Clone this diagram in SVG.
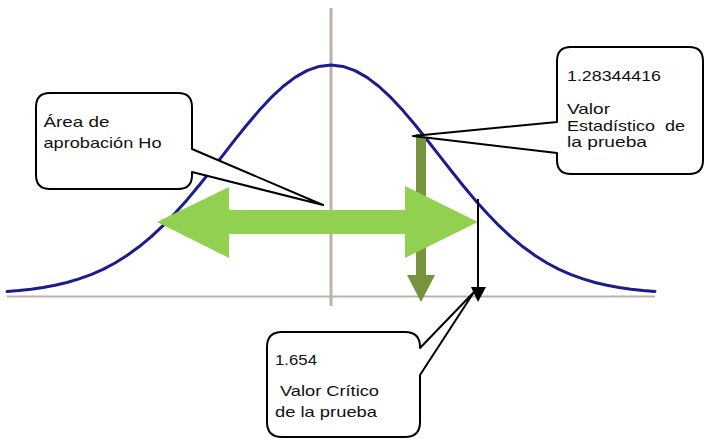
<svg xmlns="http://www.w3.org/2000/svg" width="706" height="439" viewBox="0 0 706 439">
  <style>
    .axis { stroke: #bdb2ab; fill: none; }
    .curve { stroke: #1c1c8c; stroke-width: 3; fill: none; stroke-linejoin: round; stroke-linecap: round; }
    .callout { fill: #ffffff; stroke: #000000; stroke-width: 2; stroke-linejoin: round; }
    .label { font-family: "Liberation Sans", Arial, sans-serif; font-size: 15px; fill: #111111; }
  </style>

  <rect width="706" height="439" fill="#ffffff"/>

  <!-- axes of the normal distribution plot -->
  <g id="axes">
    <line class="axis" x1="331" y1="8" x2="331" y2="306" stroke-width="3"/>
    <line class="axis" x1="7" y1="296.5" x2="655" y2="296.5" stroke-width="2" stroke="#c9b6ae"/>
  </g>

  <!-- standard normal density curve -->
  <g id="bell-curve">
    <path class="curve" d="M7,291.5 L19,290.5 L31,289.2 L43,287.5 L55,285.3 L67,282.5 L79,278.9 L91,274.6 L103,269.3 L115,263.0 L127,255.5 L139,246.8 L151,236.9 L163,225.7 L175,213.3 L187,199.9 L199,185.5 L211,170.5 L223,155.1 L235,139.7 L247,124.8 L259,110.6 L271,97.7 L283,86.5 L295,77.4 L307,70.6 L319,66.4 L331,65 L343,66.4 L355,70.6 L367,77.4 L379,86.5 L391,97.7 L403,110.6 L415,124.8 L427,139.7 L439,155.1 L451,170.5 L463,185.5 L475,199.9 L487,213.3 L499,225.7 L511,236.9 L523,246.8 L535,255.5 L547,263.0 L559,269.3 L571,274.6 L583,278.9 L595,282.5 L607,285.3 L619,287.5 L631,289.2 L643,290.5 L655,291.5"/>
  </g>

  <!-- arrows -->
  <g id="connectors">
    <!-- test statistic drop arrow -->
    <polygon id="stat-arrow" fill="#77933c" points="416,134 426,134 426,275 435,275 421,302 407,275 416,275"/>
    <!-- acceptance region double arrow -->
    <polygon id="region-arrow" fill="#92d050" points="157,222 229,187 229,210 405,210 405,186 478,222 405,258 405,234 229,234 229,258"/>
    <!-- critical value arrow -->
    <line x1="478" y1="199" x2="478" y2="290" stroke="#000000" stroke-width="2"/>
    <polygon fill="#000000" points="471,287 486,287 478,302"/>
  </g>

  <!-- callout: acceptance area -->
  <g id="callout-area">
    <path class="callout" d="M50,93 H178 Q192,93 192,107 V149 L323,205 L192,172 V175 Q192,189 178,189 H50 Q36,189 36,175 V107 Q36,93 50,93 Z"/>
    <text class="label" x="43.5" y="127" textLength="66" lengthAdjust="spacingAndGlyphs">Área de</text>
    <text class="label" x="43.5" y="148" textLength="118" lengthAdjust="spacingAndGlyphs">aprobación Ho</text>
  </g>

  <!-- callout: test statistic -->
  <g id="callout-statistic">
    <path class="callout" d="M571,47 H689 Q703,47 703,61 V160 Q703,174 689,174 H571 Q557,174 557,160 V153 L413,136 L557,122 V61 Q557,47 571,47 Z"/>
    <text class="label" x="567" y="80.5" textLength="94" lengthAdjust="spacingAndGlyphs">1.28344416</text>
    <text class="label" x="567" y="114" textLength="43" lengthAdjust="spacingAndGlyphs">Valor</text>
    <text class="label" x="567" y="130.7" textLength="118" lengthAdjust="spacingAndGlyphs">Estadístico&#160; de</text>
    <text class="label" x="567" y="147.3" textLength="80" lengthAdjust="spacingAndGlyphs">la prueba</text>
  </g>

  <!-- callout: critical value -->
  <g id="callout-critical">
    <path class="callout" d="M282,332 H405 Q420,332 420,347 V348 L474,292 L420,375 V422 Q420,437 405,437 H282 Q267,437 267,422 V347 Q267,332 282,332 Z"/>
    <text class="label" x="275" y="365" textLength="42" lengthAdjust="spacingAndGlyphs">1.654</text>
    <text class="label" x="280" y="395.5" textLength="99" lengthAdjust="spacingAndGlyphs">Valor Crítico</text>
    <text class="label" x="275" y="416.7" textLength="102" lengthAdjust="spacingAndGlyphs">de la prueba</text>
  </g>
</svg>
